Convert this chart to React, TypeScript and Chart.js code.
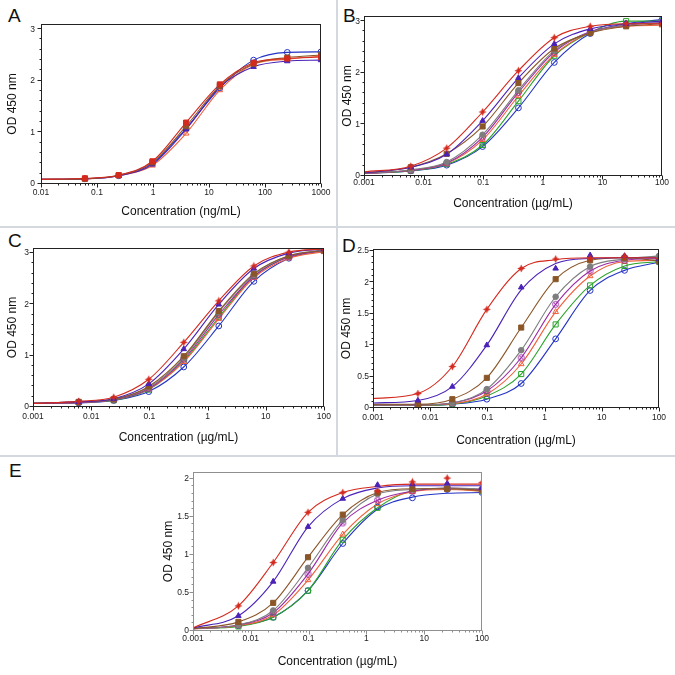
import React, { useEffect, useRef } from "react";
import { Chart, registerables } from "chart.js";
Chart.register(...registerables);

const FONT = '"Liberation Sans", Arial, Helvetica, sans-serif';

// ---------- data ----------
const concNg = [0.061, 0.244, 0.977, 3.9, 15.6, 62.5, 250, 1000];
const concUg = [0.0061, 0.0244, 0.0977, 0.39, 1.56, 6.25, 25, 100];

const xTicksNg = [0.01, 0.1, 1, 10, 100, 1000];
const xLabelsNg = ["0.01", "0.1", "1", "10", "100", "1000"];
const xTicksUg = [0.001, 0.01, 0.1, 1, 10, 100];
const xLabelsUg = ["0.001", "0.01", "0.1", "1", "10", "100"];
const yTicks3 = [0, 1, 2, 3];
const yLabels3 = ["0", "1", "2", "3"];
const yTicksD = [0, 0.5, 1, 1.5, 2, 2.5];
const yLabelsD = ["0", "0.5", "1", "1.5", "2", "2.5"];
const yTicksE = [0, 0.5, 1, 1.5, 2];
const yLabelsE = ["0", "0.5", "1", "1.5", "2"];

// Panel A (ng/mL)
const aRed = [0.11, 0.17, 0.44, 1.19, 1.93, 2.35, 2.43, 2.46];
const aBrown = [0.1, 0.17, 0.42, 1.12, 1.9, 2.33, 2.45, 2.5];
const aIndigo = [0.1, 0.16, 0.38, 1.06, 1.88, 2.27, 2.38, 2.4];
const aOrange = [0.1, 0.16, 0.36, 0.98, 1.82, 2.32, 2.42, 2.48];
const aBlue = [0.1, 0.16, 0.4, 1.08, 1.86, 2.4, 2.55, 2.56];
const aStart = [0.09, 0.09, 0.09, 0.09, 0.09];

// Panel B
const bRed = [0.19, 0.54, 1.24, 2.04, 2.68, 2.9, 2.95, 2.95];
const bIndigo = [0.17, 0.42, 1.07, 1.9, 2.56, 2.85, 2.95, 3.0];
const bBrown = [0.17, 0.43, 0.96, 1.8, 2.47, 2.77, 2.9, 2.95];
const bGray = [0.12, 0.27, 0.8, 1.66, 2.43, 2.78, 2.93, 2.97];
const bPurple = [0.11, 0.25, 0.75, 1.62, 2.4, 2.8, 2.92, 2.98];
const bOrange = [0.11, 0.24, 0.7, 1.55, 2.35, 2.78, 2.9, 2.92];
const bGreen = [0.1, 0.23, 0.6, 1.45, 2.33, 2.78, 3.0, 3.0];
const bBlue = [0.1, 0.21, 0.57, 1.32, 2.2, 2.76, 2.95, 3.03];
const bStart = [0.08, 0.06, 0.06, 0.05, 0.05, 0.05, 0.05, 0.05];

// Panel C
const cRed = [0.11, 0.19, 0.54, 1.26, 2.07, 2.75, 3.02, 3.08];
const cIndigo = [0.1, 0.16, 0.45, 1.13, 2.0, 2.7, 3.0, 3.08];
const cBrown = [0.1, 0.15, 0.4, 0.99, 1.87, 2.6, 2.95, 3.05];
const cGray = [0.1, 0.15, 0.38, 0.96, 1.85, 2.58, 2.95, 3.06];
const cPurple = [0.09, 0.14, 0.36, 0.93, 1.8, 2.55, 2.93, 3.05];
const cOrange = [0.09, 0.14, 0.35, 0.88, 1.72, 2.52, 2.9, 3.03];
const cGreen = [0.09, 0.13, 0.34, 0.9, 1.75, 2.55, 2.93, 3.05];
const cBlue = [0.08, 0.13, 0.3, 0.78, 1.58, 2.45, 2.9, 3.07];
const cStart = [0.07, 0.07, 0.07, 0.07, 0.07, 0.07, 0.07, 0.07];

// Panel D
const dRed = [0.23, 0.66, 1.57, 2.22, 2.37, 2.38, 2.41, 2.38];
const dIndigo = [0.12, 0.34, 1.0, 1.92, 2.22, 2.43, 2.42, 2.37];
const dBrown = [0.06, 0.14, 0.48, 1.28, 2.05, 2.35, 2.39, 2.34];
const dGray = [0.05, 0.08, 0.3, 0.92, 1.77, 2.25, 2.37, 2.42];
const dPurple = [0.05, 0.08, 0.27, 0.8, 1.65, 2.18, 2.35, 2.38];
const dOrange = [0.05, 0.07, 0.22, 0.7, 1.53, 2.1, 2.33, 2.35];
const dGreen = [0.04, 0.06, 0.19, 0.54, 1.33, 1.95, 2.26, 2.33];
const dBlue = [0.04, 0.06, 0.14, 0.39, 1.1, 1.87, 2.19, 2.32];
const dStart = [0.15, 0.08, 0.06, 0.05, 0.05, 0.05, 0.04, 0.04];
const dRedFit = [0.15, 0.23, 0.66, 1.57, 2.22, 2.36, 2.39, 2.39, 2.39];
const dIndigoFit = [0.08, 0.12, 0.34, 1.0, 1.88, 2.3, 2.38, 2.39, 2.39];

// Panel E
const eRed = [0.33, 0.9, 1.56, 1.82, 1.84, 1.96, 2.01, 1.95];
const eIndigo = [0.2, 0.65, 1.37, 1.74, 1.92, 1.93, 1.94, 1.88];
const eBrown = [0.12, 0.37, 0.97, 1.53, 1.82, 1.87, 1.87, 1.85];
const eGray = [0.08, 0.27, 0.83, 1.46, 1.8, 1.86, 1.88, 1.87];
const ePurple = [0.08, 0.24, 0.75, 1.42, 1.72, 1.84, 1.88, 1.86];
const eOrange = [0.07, 0.21, 0.67, 1.27, 1.67, 1.83, 1.86, 1.84];
const eGreen = [0.06, 0.18, 0.53, 1.2, 1.62, 1.84, 1.87, 1.84];
const eBlue = [0.07, 0.18, 0.53, 1.15, 1.63, 1.75, 1.86, 1.82];
const eStart = [0.04, 0.04, 0.03, 0.03, 0.03, 0.03, 0.03, 0.03];
const eRedFit = [0.04, 0.33, 0.9, 1.56, 1.82, 1.9, 1.93, 1.93, 1.93];
const eIndigoFit = [0.04, 0.2, 0.65, 1.37, 1.74, 1.88, 1.91, 1.91, 1.91];
const eBlueFit = [0.03, 0.07, 0.18, 0.53, 1.15, 1.6, 1.76, 1.81, 1.82];

// ---------- styles ----------
type Key = "red" | "redSq" | "indigo" | "brown" | "gray" | "purple" | "orange" | "green" | "blue";
const STYLE: Record<Key, { color: string; marker: string; filled: boolean; r: number }> = {
  red: { color: "#d42a1e", marker: "star4", filled: true, r: 3.5 },
  redSq: { color: "#d42a1e", marker: "rect", filled: true, r: 3.6 },
  indigo: { color: "#4a22b8", marker: "triangle", filled: true, r: 3.2 },
  brown: { color: "#8a5628", marker: "rect", filled: true, r: 3.6 },
  gray: { color: "#7d7d7d", marker: "circle", filled: true, r: 2.8 },
  purple: { color: "#9a2aa6", marker: "circleX", filled: false, r: 3 },
  orange: { color: "#f0603c", marker: "triangle", filled: false, r: 3.3 },
  green: { color: "#2aa22a", marker: "rect", filled: false, r: 3.6 },
  blue: { color: "#2434c4", marker: "circle", filled: false, r: 2.9 },
};
const ORDER8: Key[] = ["red", "indigo", "brown", "gray", "purple", "orange", "green", "blue"];
const ORDER_A: Key[] = ["redSq", "brown", "indigo", "orange", "blue"];

function customMarker(kind: string, color: string): HTMLCanvasElement | string {
  if (kind === "star4") {
    const c = document.createElement("canvas");
    c.width = 9; c.height = 9;
    const g = c.getContext("2d")!;
    g.fillStyle = color;
    g.beginPath();
    for (let i = 0; i < 8; i++) {
      const ang = -Math.PI / 2 + (i * Math.PI) / 4;
      const rr = i % 2 === 0 ? 4 : 1.9;
      const px = 4.5 + rr * Math.cos(ang);
      const py = 4.5 + rr * Math.sin(ang);
      if (i === 0) g.moveTo(px, py); else g.lineTo(px, py);
    }
    g.closePath();
    g.fill();
    return c;
  }
  if (kind === "circleX") {
    const c = document.createElement("canvas");
    c.width = 9; c.height = 9;
    const g = c.getContext("2d")!;
    g.strokeStyle = color;
    g.lineWidth = 1;
    g.beginPath();
    g.arc(4.5, 4.5, 3, 0, Math.PI * 2);
    g.stroke();
    g.beginPath();
    g.moveTo(2.5, 2.5); g.lineTo(6.5, 6.5);
    g.moveTo(6.5, 2.5); g.lineTo(2.5, 6.5);
    g.stroke();
    return c;
  }
  return kind;
}

interface SeriesDef { key: Key; pts: number[]; start: number; fit?: number[] }
interface PanelCfg {
  left: number; top: number; width: number; height: number;
  plot: { l: number; t: number; r: number; b: number };
  conc: number[]; xMin: number; xMax: number; xTicks: number[]; xLabels: string[];
  yMax: number; yTicks: number[]; yLabels: string[];
  series: SeriesDef[];
  xTitle: string; frame: string;
  yPad: number; xPad: number; yTitleX: number; xTitleY: number;
}

function build(keys: Key[], arrs: number[][], starts: number[], fits: Record<number, number[]> = {}): SeriesDef[] {
  return keys.map((k, i) => ({ key: k, pts: arrs[i], start: starts[i], fit: fits[i] }));
}

const PANELS: PanelCfg[] = [
  {
    left: 0, top: 0, width: 336, height: 226,
    plot: { l: 41, t: 24, r: 321, b: 184 },
    conc: concNg, xMin: 0.01, xMax: 1000, xTicks: xTicksNg, xLabels: xLabelsNg,
    yMax: 3.1, yTicks: yTicks3, yLabels: yLabels3,
    series: build(ORDER_A, [aRed, aBrown, aIndigo, aOrange, aBlue], aStart),
    xTitle: "Concentration (ng/mL)", frame: "#222",
    yPad: 6, xPad: 4, yTitleX: 13, xTitleY: 212,
  },
  {
    left: 339, top: 0, width: 336, height: 226,
    plot: { l: 364, t: 16, r: 662, b: 176 },
    conc: concUg, xMin: 0.001, xMax: 100, xTicks: xTicksUg, xLabels: xLabelsUg,
    yMax: 3.1, yTicks: yTicks3, yLabels: yLabels3,
    series: build(ORDER8, [bRed, bIndigo, bBrown, bGray, bPurple, bOrange, bGreen, bBlue], bStart),
    xTitle: "Concentration (\u00b5g/mL)", frame: "#222",
    yPad: 4, xPad: 2, yTitleX: 348, xTitleY: 204,
  },
  {
    left: 0, top: 229, width: 336, height: 226,
    plot: { l: 33, t: 248, r: 325, b: 407 },
    conc: concUg, xMin: 0.001, xMax: 100, xTicks: xTicksUg, xLabels: xLabelsUg,
    yMax: 3.1, yTicks: yTicks3, yLabels: yLabels3,
    series: build(ORDER8, [cRed, cIndigo, cBrown, cGray, cPurple, cOrange, cGreen, cBlue], cStart),
    xTitle: "Concentration (\u00b5g/mL)", frame: "#222",
    yPad: 4, xPad: 5, yTitleX: 13, xTitleY: 438,
  },
  {
    left: 339, top: 229, width: 336, height: 226,
    plot: { l: 373, t: 249, r: 659, b: 408 },
    conc: concUg, xMin: 0.001, xMax: 100, xTicks: xTicksUg, xLabels: xLabelsUg,
    yMax: 2.53, yTicks: yTicksD, yLabels: yLabelsD,
    series: build(ORDER8, [dRed, dIndigo, dBrown, dGray, dPurple, dOrange, dGreen, dBlue], dStart, { 0: dRedFit, 1: dIndigoFit }),
    xTitle: "Concentration (\u00b5g/mL)", frame: "#222",
    yPad: 4, xPad: 5, yTitleX: 347, xTitleY: 441,
  },
  {
    left: 140, top: 458, width: 400, height: 217,
    plot: { l: 193, t: 472, r: 482, b: 631 },
    conc: concUg, xMin: 0.001, xMax: 100, xTicks: xTicksUg, xLabels: xLabelsUg,
    yMax: 2.09, yTicks: yTicksE, yLabels: yLabelsE,
    series: build(ORDER8, [eRed, eIndigo, eBrown, eGray, ePurple, eOrange, eGreen, eBlue], eStart, { 0: eRedFit, 1: eIndigoFit, 7: eBlueFit }),
    xTitle: "Concentration (\u00b5g/mL)", frame: "#8f8f8f",
    yPad: 4, xPad: 3, yTitleX: 169, xTitleY: 662,
  },
];

function Panel({ cfg }: { cfg: PanelCfg }) {
  const ref = useRef<HTMLCanvasElement>(null);
  useEffect(() => {
    const c = cfg;
    const yW = c.plot.l - c.left;
    const padT = c.plot.t - c.top;
    const padR = c.left + c.width - c.plot.r;
    const xH = c.top + c.height - c.plot.b;
    const titleLH = 12 * 1.2;
    const yTitlePad = Math.max(0, c.yTitleX - c.left - titleLH / 2);
    const xTitlePad = Math.max(0, c.top + c.height - c.xTitleY - titleLH / 2);
    const curveX = [c.xMin, ...c.conc];

    const datasets: any[] = [];
    c.series.forEach((s) => {
      const st = STYLE[s.key];
      datasets.push({
        order: 0,
        data: c.conc.map((x, i) => ({ x, y: s.pts[i] })),
        showLine: false,
        pointStyle: customMarker(st.marker, st.color),
        pointRadius: st.r,
        pointBackgroundColor: st.filled ? st.color : "rgba(255,255,255,0)",
        pointBorderColor: st.color,
        pointBorderWidth: 1,
      });
    });
    c.series.forEach((s) => {
      const st = STYLE[s.key];
      const ys = s.fit ? s.fit : [s.start, ...s.pts];
      datasets.push({
        order: 1,
        data: curveX.map((x, i) => ({ x, y: ys[i] })),
        showLine: true,
        pointRadius: 0,
        borderColor: st.color,
        borderWidth: 1.1,
        cubicInterpolationMode: "monotone",
        fill: false,
      });
    });

    const frameTicks = {
      id: "frameTicks",
      afterDraw(chart: any) {
        const { ctx, chartArea: a, scales } = chart;
        ctx.save();
        ctx.strokeStyle = c.frame;
        ctx.lineWidth = 1;
        const L = Math.round(a.left) + 0.5, R = Math.round(a.right) - 0.5;
        const T = Math.round(a.top) + 0.5, B = Math.round(a.bottom) - 0.5;
        ctx.strokeRect(L, T, R - L, B - T);
        ctx.beginPath();
        const xs = scales.x;
        c.xTicks.forEach((d) => {
          const px = Math.round(xs.getPixelForValue(d)) + 0.5;
          ctx.moveTo(px, B); ctx.lineTo(px, B + 4);
          for (let k = 2; k <= 9; k++) {
            const v = k * d;
            if (v > c.xMax) break;
            const mx = Math.round(xs.getPixelForValue(v)) + 0.5;
            ctx.moveTo(mx, B); ctx.lineTo(mx, B + 2);
          }
        });
        const ysc = scales.y;
        const step = (c.yTicks[1] - c.yTicks[0]) / 5;
        for (let v = 0; v <= c.yMax + 1e-9; v += step) {
          const isMajor = c.yTicks.some((t) => Math.abs(t - v) < 1e-6);
          const py = Math.round(ysc.getPixelForValue(v)) - 0.5;
          ctx.moveTo(L, py); ctx.lineTo(L - (isMajor ? 4 : 2), py);
        }
        ctx.stroke();
        ctx.restore();
      },
    };

    const chart = new Chart(ref.current!, {
      type: "scatter",
      data: { datasets },
      plugins: [frameTicks],
      options: {
        animation: false,
        responsive: false,
        maintainAspectRatio: false,
        layout: { padding: { left: 0, top: padT, right: padR, bottom: 0 } },
        plugins: { legend: { display: false }, tooltip: { enabled: false } },
        scales: {
          x: {
            type: "logarithmic",
            min: c.xMin,
            max: c.xMax,
            afterBuildTicks: (s: any) => { s.ticks = c.xTicks.map((v) => ({ value: v })); },
            afterFit: (s: any) => { s.height = xH; },
            ticks: {
              callback: (_v: any, i: number) => c.xLabels[i],
              font: { family: FONT, size: 8.5 },
              color: "#222",
              padding: c.xPad,
              maxRotation: 0,
              autoSkip: false,
            },
            grid: { display: false, drawTicks: false, tickLength: 0 },
            border: { display: false },
            title: {
              display: true,
              text: c.xTitle,
              font: { family: FONT, size: 12 },
              color: "#111",
              padding: { top: 0, bottom: xTitlePad },
            },
          },
          y: {
            type: "linear",
            min: 0,
            max: c.yMax,
            afterBuildTicks: (s: any) => { s.ticks = c.yTicks.map((v) => ({ value: v })); },
            afterFit: (s: any) => { s.width = yW; },
            ticks: {
              callback: (_v: any, i: number) => c.yLabels[i],
              font: { family: FONT, size: 8.5 },
              color: "#222",
              padding: c.yPad,
            },
            grid: { display: false, drawTicks: false, tickLength: 0 },
            border: { display: false },
            title: {
              display: true,
              text: "OD 450 nm",
              font: { family: FONT, size: 12 },
              color: "#111",
              padding: { top: yTitlePad, bottom: 0 },
            },
          },
        },
      } as any,
    });
    return () => chart.destroy();
  }, [cfg]);
  return (
    <canvas
      ref={ref}
      width={cfg.width}
      height={cfg.height}
      style={{ position: "absolute", left: cfg.left, top: cfg.top, width: cfg.width, height: cfg.height }}
    />
  );
}

const LETTERS = [
  { t: "A", x: 8, y: 6 },
  { t: "B", x: 343, y: 6 },
  { t: "C", x: 8, y: 231 },
  { t: "D", x: 342, y: 236 },
  { t: "E", x: 9, y: 461 },
];

export default function App() {
  useEffect(() => {
    document.body.style.margin = "0";
  }, []);
  const sep = "#d3d9de";
  return (
    <div style={{ position: "fixed", left: 0, top: 0, width: 675, height: 675, background: "#fff", overflow: "hidden" }}>
      <div style={{ position: "absolute", left: 336, top: 0, width: 2, height: 457, background: sep }} />
      <div style={{ position: "absolute", left: 0, top: 226, width: 675, height: 2, background: sep }} />
      <div style={{ position: "absolute", left: 0, top: 455, width: 675, height: 2, background: sep }} />
      {LETTERS.map((l) => (
        <div
          key={l.t}
          style={{ position: "absolute", left: l.x, top: l.y, fontFamily: FONT, fontSize: 19, lineHeight: "19px", color: "#111" }}
        >
          {l.t}
        </div>
      ))}
      {PANELS.map((p, i) => (
        <Panel key={i} cfg={p} />
      ))}
    </div>
  );
}
